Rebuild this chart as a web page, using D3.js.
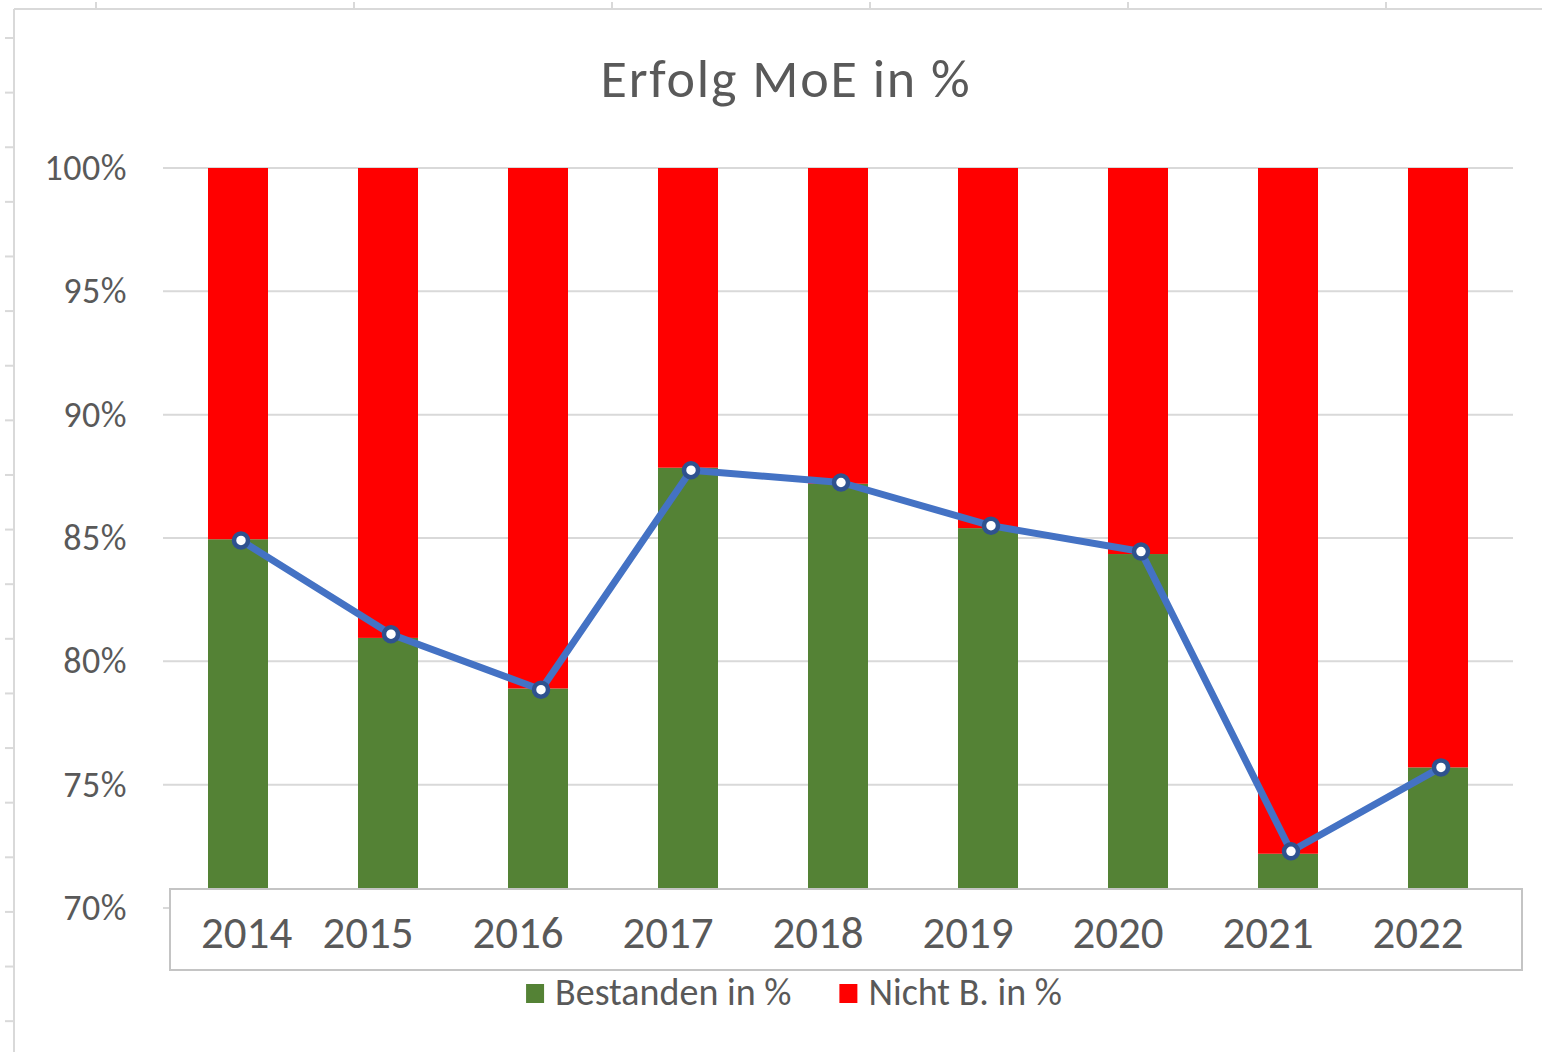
<!DOCTYPE html>

<head>
	<meta charset="utf-8">
	<script src="https://d3js.org/d3.v7.min.js"></script>
	<style>
		body { margin: 0; background: #fff; }
		text { font-family: Carlito, Calibri, Lato, "Open Sans", sans-serif; fill: #595959; }
	</style>
</head>

<body>
	<script type="text/javascript">

		var years = ["2014", "2015", "2016", "2017", "2018", "2019", "2020", "2021", "2022"];
		var bestanden = [84.95, 80.95, 78.9, 87.85, 87.2, 85.4, 84.35, 72.2, 75.7];
		var nichtB = [15.05, 19.05, 21.1, 12.15, 12.8, 14.6, 15.65, 27.8, 24.3];
		var linie = [84.9, 81.1, 78.85, 87.75, 87.25, 85.5, 84.45, 72.3, 75.7];
		var yTicks = [70, 75, 80, 85, 90, 95, 100];
		var legendNames = ["Bestanden in %", "Nicht B. in %"];
		var colors = ["#548235", "#ff0000"];

		var w = 1542;
		var h = 1052;
		var svg = d3.select('body')
				.append("svg")
				.attr("width", w)
				.attr("height", h);

		// remains of the spreadsheet grid around the chart
		var sheet = svg.append("g").attr("stroke", "#d9d9d9").attr("stroke-width", 2);
		sheet.append("line").attr("x1", 14).attr("x2", 14).attr("y1", 9).attr("y2", h);
		sheet.append("line").attr("x1", 14).attr("x2", w).attr("y1", 9).attr("y2", 9);
		sheet.selectAll(".lt")
			.data(d3.range(38, h, 54.62))
			.enter()
			.append("line")
			.attr("x1", 5).attr("x2", 14)
			.attr("y1", function(d){ return d; })
			.attr("y2", function(d){ return d; });
		sheet.selectAll(".tt")
			.data(d3.range(96, w, 258))
			.enter()
			.append("line")
			.attr("y1", 2).attr("y2", 9)
			.attr("x1", function(d){ return d; })
			.attr("x2", function(d){ return d; });

		var plotLeft = 163, plotRight = 1513, plotTop = 168, plotBottom = 908;

		var xScale = d3.scaleBand()
				.domain(years)
				.range([plotLeft, plotRight])
				.paddingInner(0.6)
				.paddingOuter(0.3);

		var yScale = d3.scaleLinear()
				.domain([70, 100])
				.range([plotBottom, plotTop]);

		// title
		svg.append("text")
			.attr("x", 786)
			.attr("y", 97)
			.attr("text-anchor", "middle")
			.style("font-size", "54px")
			.style("letter-spacing", "1.8px")
			.text("Erfolg MoE in %");

		// gridlines
		svg.append("g")
			.selectAll("line")
			.data(yTicks)
			.enter()
			.append("line")
			.attr("x1", plotLeft)
			.attr("x2", plotRight)
			.attr("y1", function(d){ return yScale(d); })
			.attr("y2", function(d){ return yScale(d); })
			.attr("stroke", "#d9d9d9")
			.attr("stroke-width", 2);

		var yAxis = svg.append("g")
				.attr("transform", "translate(" + 127 + ",0)")
				.call(d3.axisLeft(yScale).tickValues(yTicks).tickSize(0).tickPadding(0)
					.tickFormat(function(d){ return d + "%"; }));
		yAxis.select(".domain").remove();
		yAxis.selectAll("text")
			.attr("fill", "#595959")
			.style("font-size", "36px")
			.style("letter-spacing", "0.5px");

		// stacked bars
		var rows = years.map(function(y, i){
			return { year: y, bestanden: bestanden[i], nicht: nichtB[i] };
		});
		var stack = d3.stack().keys(["bestanden", "nicht"]);
		var series = stack(rows);

		svg.append("clipPath")
			.attr("id", "plot")
			.append("rect")
			.attr("x", plotLeft).attr("y", plotTop)
			.attr("width", plotRight - plotLeft).attr("height", plotBottom - plotTop);

		svg.append("g")
			.attr("clip-path", "url(#plot)")
			.selectAll("g")
			.data(series)
			.enter()
			.append("g")
			.attr("fill", function(d, i){ return colors[i]; })
			.selectAll("rect")
			.data(function(d){ return d; })
			.enter()
			.append("rect")
			.attr("x", function(d){ return xScale(d.data.year); })
			.attr("y", function(d){ return yScale(d[1]); })
			.attr("width", xScale.bandwidth())
			.attr("height", function(d){ return yScale(d[0]) - yScale(d[1]); });

		// category axis sits in a bordered box over the bar bottoms
		var boxX = 170, boxY = 889, boxW = 1352, boxH = 81;
		svg.append("rect")
			.attr("x", boxX).attr("y", boxY)
			.attr("width", boxW).attr("height", boxH)
			.attr("fill", "#fff")
			.attr("stroke", "#c4c4c4")
			.attr("stroke-width", 2);

		var catLabels = svg.append("g")
			.selectAll("text")
			.data(years)
			.enter()
			.append("text")
			.attr("x", function(d){ return xScale(d) + xScale.bandwidth() / 2 - 20; })
			.attr("y", 948)
			.attr("text-anchor", "middle")
			.style("font-size", "45px")
			.text(function(d){ return d; });
		// keep the first label clear of the box edge
		catLabels.each(function(){
			var t = d3.select(this);
			var half = this.getComputedTextLength() / 2;
			var x = +t.attr("x");
			if (x - half < boxX + 31) t.attr("x", boxX + 31 + half);
		});

		// line with markers
		var line = d3.line()
				.x(function(d, i){ return xScale(years[i]) + xScale.bandwidth() / 2 + 3; })
				.y(function(d){ return yScale(d); });

		svg.append("path")
			.datum(linie)
			.attr("d", line)
			.attr("fill", "none")
			.attr("stroke", "#4472c4")
			.attr("stroke-width", 7)
			.attr("stroke-linejoin", "round")
			.attr("stroke-linecap", "round");

		svg.append("g")
			.selectAll("circle")
			.data(linie)
			.enter()
			.append("circle")
			.attr("cx", function(d, i){ return xScale(years[i]) + xScale.bandwidth() / 2 + 3; })
			.attr("cy", function(d){ return yScale(d); })
			.attr("r", 7)
			.attr("fill", "#fff")
			.attr("stroke", "#2f528f")
			.attr("stroke-width", 4.5);

		// legend
		var legend = svg.append("g");
		var lx = 0;
		legendNames.forEach(function(name, i){
			var g = legend.append("g").attr("transform", "translate(" + lx + ",0)");
			g.append("rect")
				.attr("x", 0).attr("y", 984)
				.attr("width", 18).attr("height", 19)
				.attr("fill", colors[i]);
			var t = g.append("text")
				.attr("x", 29).attr("y", 1005)
				.style("font-size", "38px")
				.text(name);
			lx += 29 + t.node().getComputedTextLength() + 48;
		});
		var legendW = lx - 48;
		legend.attr("transform", "translate(" + (794 - legendW / 2) + ",0)");

	</script>
</body>
